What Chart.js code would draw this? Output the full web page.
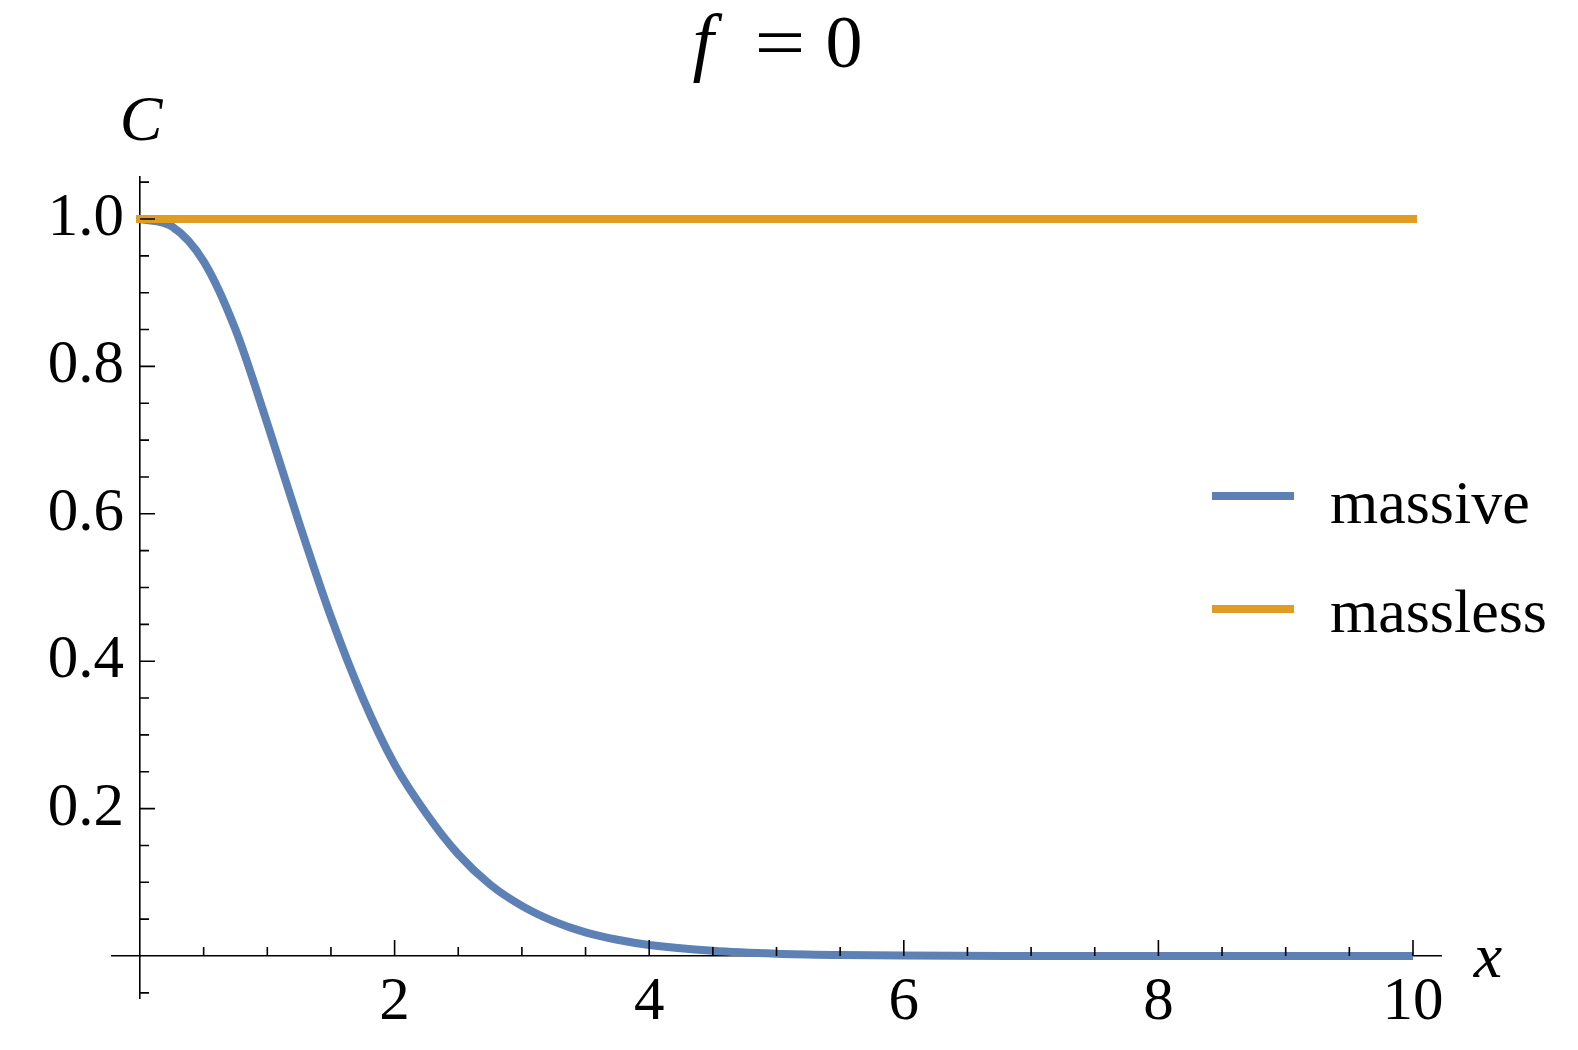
<!DOCTYPE html>
<html>
<head>
<meta charset="utf-8">
<title>f = 0</title>
<script src="https://cdn.jsdelivr.net/npm/chart.js@4.4.1/dist/chart.umd.min.js"></script>
<style>
  html, body { margin: 0; padding: 0; background: #fff; }
  #chart { display: block; }
</style>
</head>
<body>
<canvas id="chart" width="1578" height="1050"></canvas>
<script>
// curve samples
const xValues = [0, 0.25, 0.5, 0.75, 1, 1.25, 1.5, 1.75, 2, 2.25, 2.5, 2.75, 3, 3.25, 3.5, 3.75, 4, 4.5, 5, 5.5, 6, 7, 8, 10];
const massiveValues = [1, 0.99, 0.9425, 0.85, 0.7225, 0.5875, 0.46, 0.35, 0.26, 0.193, 0.138, 0.097, 0.068, 0.047, 0.032, 0.022, 0.015, 0.007, 0.003, 0.0013, 0.0005, 0.0001, 0, 0];
const masslessX = [0, 10];
const masslessValues = [1, 1];

const seriesNames = ['massive', 'massless'];
const seriesColors = ['#5E81B5', '#E19C24'];

// axes
const xTicks = [2, 4, 6, 8, 10];
const yTicks = [0.2, 0.4, 0.6, 0.8, 1.0];
const xMinorTicks = [0.5, 1, 1.5, 2.5, 3, 3.5, 4.5, 5, 5.5, 6.5, 7, 7.5, 8.5, 9, 9.5];
const yMinorTicks = [-0.05, 0.05, 0.1, 0.15, 0.25, 0.3, 0.35, 0.45, 0.5, 0.55, 0.65, 0.7, 0.75, 0.85, 0.9, 0.95, 1.05];

const SERIF = '"Liberation Serif", "Times New Roman", serif';

const toPoints = (xs, ys) => xs.map((x, i) => ({ x: x, y: ys[i] }));

// inward tick marks, y tick labels, title, axis labels and legend
const decorations = {
  id: 'decorations',
  beforeDraw(chart) {
    const ctx = chart.ctx;
    ctx.save();
    ctx.fillStyle = '#fff';
    ctx.fillRect(0, 0, chart.width, chart.height);
    ctx.restore();
  },
  afterDraw(chart) {
    const ctx = chart.ctx;
    const xs = chart.scales.x;
    const ys = chart.scales.y;
    const x0 = xs.getPixelForValue(0);
    const y0 = ys.getPixelForValue(0);

    ctx.save();
    ctx.strokeStyle = '#000';
    ctx.lineWidth = 1.6;
    ctx.beginPath();
    xTicks.forEach(v => { const p = xs.getPixelForValue(v); ctx.moveTo(p, y0); ctx.lineTo(p, y0 - 16); });
    xMinorTicks.forEach(v => { const p = xs.getPixelForValue(v); ctx.moveTo(p, y0); ctx.lineTo(p, y0 - 9); });
    yTicks.forEach(v => { const p = ys.getPixelForValue(v); ctx.moveTo(x0, p); ctx.lineTo(x0 + 15, p); });
    yMinorTicks.forEach(v => { const p = ys.getPixelForValue(v); ctx.moveTo(x0, p); ctx.lineTo(x0 + 9, p); });
    ctx.stroke();

    // y tick labels, text from the scale's own ticks
    ctx.fillStyle = '#000';
    ctx.font = '61px ' + SERIF;
    ctx.textAlign = 'right';
    ctx.textBaseline = 'middle';
    ys.ticks.forEach(t => { ctx.fillText(t.label, x0 - 16, ys.getPixelForValue(t.value)); });

    // axis labels
    ctx.textAlign = 'center';
    ctx.textBaseline = 'alphabetic';
    ctx.font = 'italic 64px ' + SERIF;
    ctx.fillText('C', x0 + 1, 140);
    ctx.fillText('x', 1488, 977);

    // title  f = 0
    ctx.font = 'italic 76px ' + SERIF;
    ctx.fillText('f', 703, 67);
    ctx.font = '74px ' + SERIF;
    ctx.fillText('0', 844, 67);
    ctx.save();
    ctx.translate(780, 67);
    ctx.scale(1.22, 1);
    ctx.fillText('=', 0, 0);
    ctx.restore();

    // legend
    const rows = [{ line: 496, text: 523 }, { line: 609, text: 632 }];
    chart.data.datasets.forEach((ds, i) => {
      ctx.strokeStyle = ds.borderColor;
      ctx.lineWidth = 8;
      ctx.beginPath();
      ctx.moveTo(1212, rows[i].line);
      ctx.lineTo(1294, rows[i].line);
      ctx.stroke();
      ctx.fillStyle = '#000';
      ctx.font = '62px ' + SERIF;
      ctx.textAlign = 'left';
      ctx.fillText(ds.label, 1330, rows[i].text);
    });
    ctx.restore();
  }
};

const tickFont = { family: SERIF, size: 61 };

new Chart(document.getElementById('chart'), {
  type: 'line',
  data: {
    datasets: [
      {
        label: seriesNames[0],
        data: toPoints(xValues, massiveValues),
        borderColor: seriesColors[0],
        borderWidth: 8,
        cubicInterpolationMode: 'monotone',
        pointRadius: 0,
        fill: false,
        order: 2
      },
      {
        label: seriesNames[1],
        data: toPoints(masslessX, masslessValues),
        borderColor: seriesColors[1],
        borderWidth: 8,
        borderCapStyle: 'square',
        pointRadius: 0,
        fill: false,
        order: 1
      }
    ]
  },
  options: {
    responsive: false,
    animation: false,
    devicePixelRatio: 1,
    layout: { padding: { left: 112, right: 137, top: 177, bottom: 52 } },
    plugins: { legend: { display: false }, tooltip: { enabled: false }, title: { display: false } },
    scales: {
      x: {
        type: 'linear',
        min: -0.22,
        max: 10.22,
        position: { y: 0 },
        z: 1,
        grid: { drawOnChartArea: false, drawTicks: false },
        border: { color: '#000', width: 1.6 },
        ticks: { font: tickFont, color: '#000', padding: 10, autoSkip: false, maxRotation: 0, callback: v => String(v) },
        afterBuildTicks: s => { s.ticks = xTicks.map(v => ({ value: v })); }
      },
      y: {
        type: 'linear',
        min: -0.057,
        max: 1.057,
        position: { x: 0 },
        z: 1,
        grid: { drawOnChartArea: false, drawTicks: false },
        border: { color: '#000', width: 1.6 },
        ticks: { display: false, font: tickFont, autoSkip: false, callback: v => v.toFixed(1) },
        afterBuildTicks: s => { s.ticks = yTicks.map(v => ({ value: v })); }
      }
    }
  },
  plugins: [decorations]
});
</script>
</body>
</html>
